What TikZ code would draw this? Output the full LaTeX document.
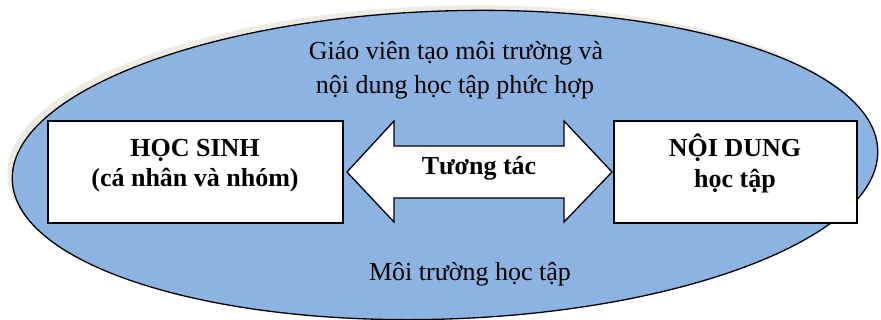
\documentclass[tikz,border=0pt]{standalone}
\usepackage{fontspec}
\setmainfont{Liberation Serif}
\definecolor{envblue}{RGB}{141,179,226}
\definecolor{shadowgray}{RGB}{236,235,228}
\begin{document}
\begin{tikzpicture}[x=1pt,y=-1pt,
  box/.style={draw=black,line width=1.3pt,fill=white},
  bodytext/.style={font=\fontsize{26}{30}\selectfont,anchor=base,inner sep=0pt},
  boldtext/.style={font=\fontsize{26}{30}\selectfont\bfseries,anchor=base,inner sep=0pt}]
\useasboundingbox (0,0) rectangle (881,320);
\begin{scope}
\clip (0,0) rectangle (881,320);
% shadow and environment ellipse
\fill[shadowgray,rotate around={2:(440,160)}] (440,160) ellipse [x radius=433pt,y radius=154pt];
\draw[fill=envblue,line width=1.3pt,rotate around={2:(445,165)}] (445,165) ellipse [x radius=433pt,y radius=154pt];
\end{scope}
% boxes
\draw[box] (48,121) rectangle (343,223);
\draw[box] (614,121) rectangle (857,223);
% double block arrow
\draw[box,line join=miter] (347,172) -- (394,121) -- (394,146) -- (564,146) -- (564,121)
  -- (612,172) -- (564,222) -- (564,198) -- (394,198) -- (394,222) -- cycle;
% texts
\node[bodytext] (t1) at (456,60) {Giáo viên tạo môi trường và};
\node[bodytext] (t2) at (455,94) {nội dung học tập phức hợp};
\node[boldtext] (hs1) at (195,157) {HỌC SINH};
\node[boldtext] (hs2) at (195,187) {(cá nhân và nhóm)};
\node[boldtext] (tt) at (479,175) {Tương tác};
\node[boldtext] (nd1) at (735,157) {NỘI DUNG};
\node[boldtext] (nd2) at (735,188) {học tập};
\node[bodytext] (mt) at (470,281) {Môi trường học tập};
\end{tikzpicture}
\end{document}
